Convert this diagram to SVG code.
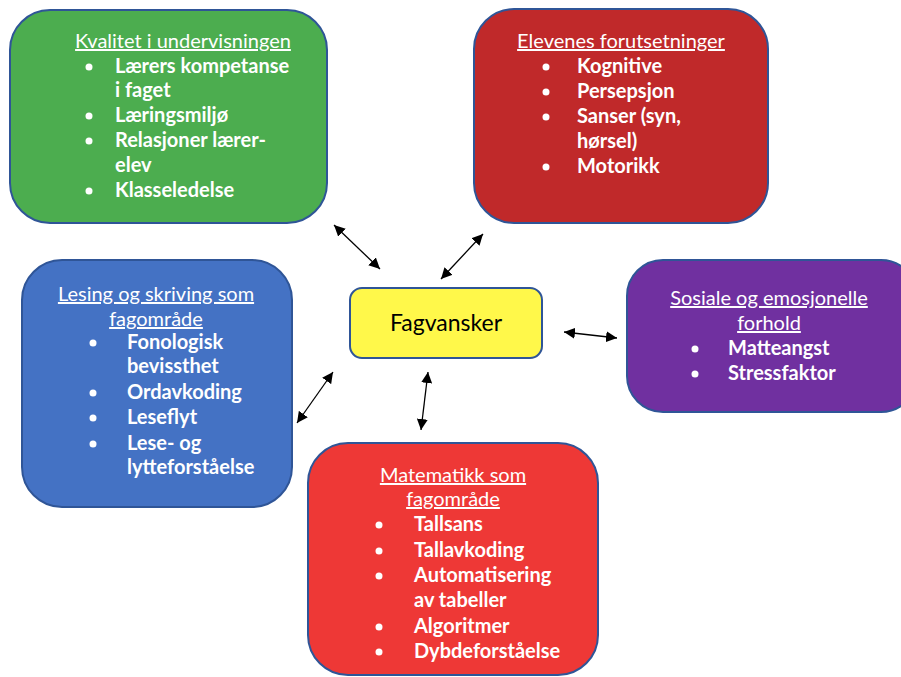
<svg xmlns="http://www.w3.org/2000/svg" width="901" height="677" viewBox="0 0 901 677">
<style>
.box{stroke:#2F5597;stroke-width:2}
.t{font-family:Lato,"Liberation Sans",sans-serif;font-size:20px;fill:#fff}
.h{text-decoration:underline;text-anchor:middle}
.i{font-weight:bold}
.b{fill:#fff}
.c{stroke:#000;stroke-width:1.3;fill:none;marker-start:url(#ah);marker-end:url(#ah)}
</style>
<defs>
<marker id="ah" viewBox="0 0 10 10" refX="10" refY="5" markerWidth="11" markerHeight="11" markerUnits="userSpaceOnUse" orient="auto-start-reverse">
<path d="M0,0 L10,5 L0,10 z" fill="#000"/>
</marker>
</defs>
<rect width="901" height="677" fill="#fff"/>
<g id="connectors">
<line class="c" x1="334" y1="225" x2="380" y2="269"/>
<line class="c" x1="483" y1="234" x2="441" y2="279"/>
<line class="c" x1="564" y1="332" x2="617" y2="338"/>
<line class="c" x1="333" y1="372" x2="297" y2="423"/>
<line class="c" x1="428" y1="372" x2="421" y2="430"/>
</g>
<g id="kvalitet">
<rect class="box" x="10" y="10" width="317" height="213" rx="40" fill="#4CAD4F"/>
<text class="t h" x="183" y="48">Kvalitet i undervisningen</text>
<g class="b"><circle cx="89" cy="67" r="3.5"/><circle cx="89" cy="116" r="3.5"/><circle cx="89" cy="141" r="3.5"/><circle cx="89" cy="191" r="3.5"/></g>
<text class="t i" x="115" y="73">Lærers kompetanse</text>
<text class="t i" x="115" y="97">i faget</text>
<text class="t i" x="115" y="122">Læringsmiljø</text>
<text class="t i" x="115" y="147">Relasjoner lærer-</text>
<text class="t i" x="115" y="172">elev</text>
<text class="t i" x="115" y="197">Klasseledelse</text>
</g>
<g id="elevenes">
<rect class="box" x="474" y="9" width="294" height="214" rx="40" fill="#C0292A"/>
<text class="t h" x="621" y="48">Elevenes forutsetninger</text>
<g class="b"><circle cx="546" cy="67" r="3.5"/><circle cx="546" cy="92" r="3.5"/><circle cx="546" cy="117" r="3.5"/><circle cx="546" cy="167" r="3.5"/></g>
<text class="t i" x="577" y="73">Kognitive</text>
<text class="t i" x="577" y="98">Persepsjon</text>
<text class="t i" x="577" y="123">Sanser (syn,</text>
<text class="t i" x="577" y="148">hørsel)</text>
<text class="t i" x="577" y="173">Motorikk</text>
</g>
<g id="lesing">
<rect class="box" x="22" y="260" width="270" height="247" rx="40" fill="#4472C4"/>
<text class="t h" x="156" y="301">Lesing og skriving som</text>
<text class="t h" x="156" y="326">fagområde</text>
<g class="b"><circle cx="93" cy="343" r="3.5"/><circle cx="93" cy="393" r="3.5"/><circle cx="93" cy="418" r="3.5"/><circle cx="93" cy="444" r="3.5"/></g>
<text class="t i" x="127" y="349">Fonologisk</text>
<text class="t i" x="127" y="373">bevissthet</text>
<text class="t i" x="127" y="399">Ordavkoding</text>
<text class="t i" x="127" y="424">Leseflyt</text>
<text class="t i" x="127" y="450">Lese- og</text>
<text class="t i" x="127" y="474">lytteforståelse</text>
</g>
<g id="fagvansker">
<rect class="box" x="350" y="288" width="192" height="70" rx="12" fill="#FFF84A"/>
<text x="446" y="331" text-anchor="middle" font-family="Lato,'Liberation Sans',sans-serif" font-size="23" fill="#000">Fagvansker</text>
</g>
<g id="sosiale">
<rect class="box" x="627" y="260" width="290" height="152" rx="36" fill="#7030A0"/>
<text class="t h" x="769" y="305">Sosiale og emosjonelle</text>
<text class="t h" x="769" y="330">forhold</text>
<g class="b"><circle cx="695" cy="349" r="3.5"/><circle cx="695" cy="374" r="3.5"/></g>
<text class="t i" x="728" y="355">Matteangst</text>
<text class="t i" x="728" y="380">Stressfaktor</text>
</g>
<g id="matematikk">
<rect class="box" x="308" y="443" width="290" height="232" rx="40" fill="#EE3836"/>
<text class="t h" x="453" y="482">Matematikk som</text>
<text class="t h" x="453" y="506">fagområde</text>
<g class="b"><circle cx="379" cy="525" r="3.5"/><circle cx="379" cy="551" r="3.5"/><circle cx="379" cy="576" r="3.5"/><circle cx="379" cy="627" r="3.5"/><circle cx="379" cy="652" r="3.5"/></g>
<text class="t i" x="414" y="531">Tallsans</text>
<text class="t i" x="414" y="557">Tallavkoding</text>
<text class="t i" x="414" y="582">Automatisering</text>
<text class="t i" x="414" y="607">av tabeller</text>
<text class="t i" x="414" y="633">Algoritmer</text>
<text class="t i" x="414" y="658">Dybdeforståelse</text>
</g>
</svg>
